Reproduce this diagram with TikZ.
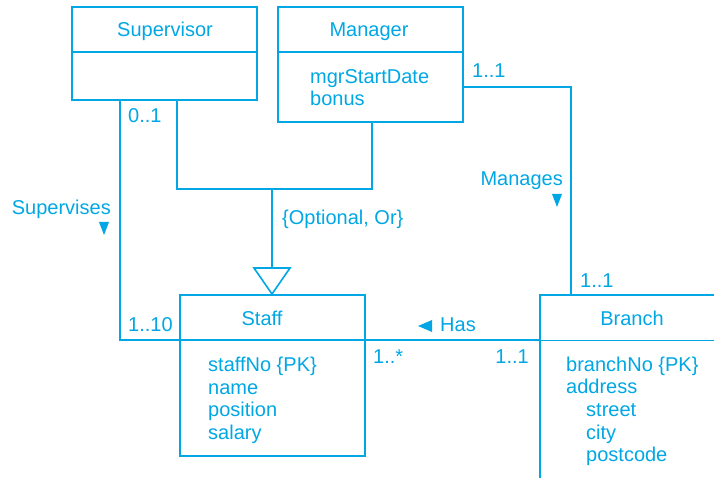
\documentclass[tikz,border=0pt]{standalone}
\usepackage{fontspec}
\setmainfont{Liberation Sans}
\definecolor{uml}{RGB}{0,167,228}
\begin{document}
\begin{tikzpicture}[x=1pt,y=-1pt,
  box/.style={draw=uml, line width=1.6pt, rectangle, inner sep=0pt, anchor=north west},
  lbl/.style={text=uml, font=\fontsize{20}{22.7}\selectfont, inner sep=0pt, anchor=base west},
  ttl/.style={lbl, anchor=base},
  conn/.style={draw=uml, line width=1.6pt},
  tip/.style={fill=uml}]
\useasboundingbox (0,0) rectangle (714,478);
\clip (0,0) rectangle (714,478);
% classes
\node[box, minimum width=185pt, minimum height=93pt] (sup) at (71,6) {};
\node[box, minimum width=185pt, minimum height=115pt] (mgr) at (277,6) {};
\node[box, minimum width=185pt, minimum height=161pt] (staff) at (179,294) {};
\node[box, minimum width=220pt, minimum height=220pt] (branch) at (539,294) {};
\draw[conn] (sup.west |- 0,52) -- (sup.east |- 0,52);
\draw[conn] (mgr.west |- 0,52) -- (mgr.east |- 0,52);
\draw[conn] (staff.west |- 0,340) -- (staff.east |- 0,340);
\draw[conn] (branch.west |- 0,340.5) -- (branch.east |- 0,340.5);
% titles
\node[ttl] (tsup) at (165,37) {Supervisor};
\node[ttl] (tmgr) at (369,37) {Manager};
\node[ttl] (tstaff) at (262,325) {Staff};
\node[ttl] (tbranch) at (632,325) {Branch};
% attributes
\node[lbl] (m1a) at (310,83.3) {mgrStartDate};
\node[lbl] (m2a) at (310,106) {bonus};
\node[lbl] (s1a) at (208,371.5) {staffNo \{PK\}};
\node[lbl] (s2a) at (208,394.2) {name};
\node[lbl] (s3a) at (208,416.9) {position};
\node[lbl] (s4a) at (208,439.6) {salary};
\node[lbl] (b1a) at (566,371) {branchNo \{PK\}};
\node[lbl] (b2a) at (566,393.7) {address};
\node[lbl] (b3a) at (586,416.4) {street};
\node[lbl] (b4a) at (586,439.1) {city};
\node[lbl] (b5a) at (586,461.8) {postcode};
% Supervises
\coordinate (s1) at (120,340);
\draw[conn] (sup.south -| s1) -- (s1) -- (staff.west |- s1);
% generalization
\coordinate (g1) at (177,189);
\coordinate (g2) at (372,189);
\coordinate (gm) at (272,189);
\coordinate (tri) at (272,268);
\draw[conn] (sup.south -| g1) -- (g1) -- (g2) -- (mgr.south -| g2);
\draw[conn] (gm) -- (tri);
\draw[conn, line join=miter] ([xshift=-18pt]tri) -- ([xshift=18pt]tri) -- (staff.north -| tri) -- cycle;
% Manages
\coordinate (mc) at (571,87);
\draw[conn] (mgr.east |- mc) -- (mc) -- (branch.north -| mc);
% Has
\draw[conn] (staff.east |- 0,340) -- (branch.west |- 0,340);
% labels
\node[lbl] (l01) at (128,123) {0..1};
\node[lbl] (l110) at (128,331) {1..10};
\node[lbl, anchor=base east] (lsup) at (111,215) {Supervises};
\fill[tip] (99,222) -- (109,222) -- (104,235) -- cycle;
\node[lbl] (lopt) at (282,225) {\{Optional, Or\}};
\node[lbl] (l11a) at (472,78) {1..1};
\node[lbl, anchor=base east] (lman) at (563,186) {Manages};
\fill[tip] (552,194) -- (562,194) -- (557,207) -- cycle;
\node[lbl] (l11b) at (580,287) {1..1};
\node[lbl] (lhas) at (440,331.5) {Has};
\fill[tip] (432,320) -- (432,332) -- (418,326) -- cycle;
\node[lbl] (l1s) at (373,363) {1..*};
\node[lbl, anchor=base east] (l11c) at (529,363) {1..1};
\end{tikzpicture}
\end{document}
